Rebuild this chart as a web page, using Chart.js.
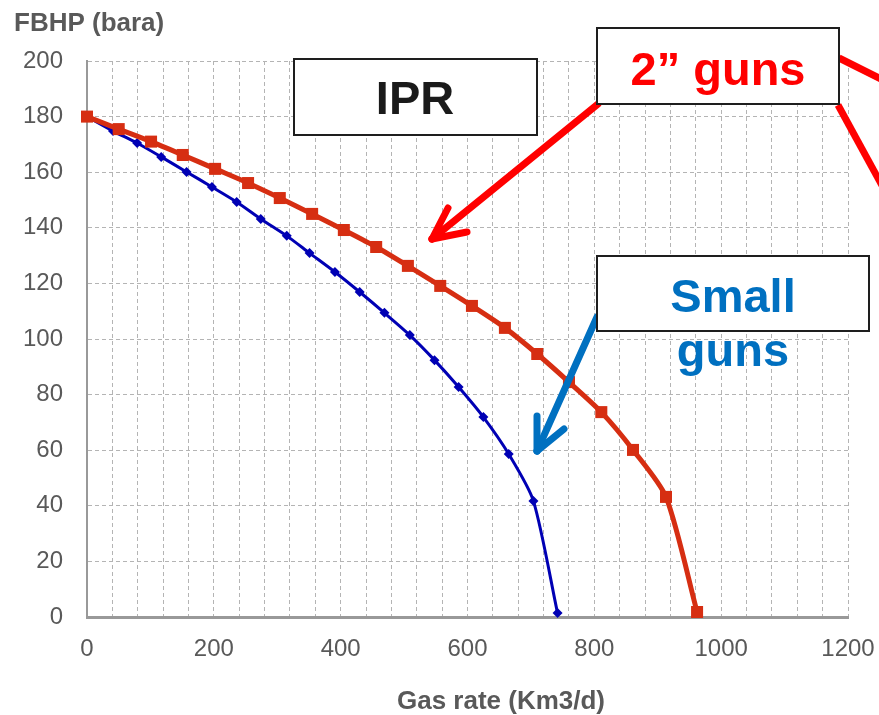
<!DOCTYPE html>
<html>
<head>
<meta charset="utf-8">
<script src="https://cdn.jsdelivr.net/npm/chart.js@4/dist/chart.umd.min.js"></script>
<style>
  html, body { margin: 0; padding: 0; background: #fff; }
  #wrap { width: 879px; height: 715px; }
</style>
</head>
<body>
<div id="wrap"><canvas id="ipr" width="879" height="715"></canvas></div>
<script>
// IPR curves, FBHP (bara) vs gas rate (Km3/d)
const bigGunsRate = [0, 50, 101, 151, 202, 254, 304, 355, 405, 456, 506, 557, 607, 659, 710, 760, 811, 861, 913, 962];
const bigGunsFbhp = [180, 175.5, 171, 166.2, 161.2, 156.1, 150.7, 145, 139.2, 133.1, 126.3, 119.1, 111.9, 104, 94.6, 84.5, 73.7, 60.1, 43.2, 1.8];

const smallGunsRate = [0, 41, 79, 117, 157, 197, 236, 274, 315, 351, 391, 430, 469, 509, 548, 586, 625, 665, 704, 742];
const smallGunsFbhp = [180, 174.8, 170.5, 165.5, 160.1, 154.7, 149.3, 143.2, 137.1, 130.9, 124.1, 116.9, 109.4, 101.4, 92.4, 82.7, 71.9, 58.6, 41.7, 1.4];

const xTickLabels = ['0', '200', '400', '600', '800', '1000', '1200'];
const yTickLabels = ['0', '20', '40', '60', '80', '100', '120', '140', '160', '180', '200'];

const TXT = '#595959';
const FONT = '"Liberation Sans", Arial, sans-serif';

function pts(xs, ys) { return xs.map((x, i) => ({ x: x, y: ys[i] })); }

// boxes, arrows and axis titles drawn on top of the chart
const overlay = {
  id: 'overlay',
  afterDraw(chart) {
    const ctx = chart.ctx;
    ctx.save();

    // axis titles
    ctx.fillStyle = TXT;
    ctx.font = 'bold 26px ' + FONT;
    ctx.textAlign = 'left'; ctx.textBaseline = 'alphabetic';
    ctx.fillText('FBHP (bara)', 14, 31);
    ctx.textAlign = 'center';
    ctx.fillText('Gas rate (Km3/d)', 501, 709);

    function line(x1, y1, x2, y2, color, cap) {
      ctx.beginPath(); ctx.moveTo(x1, y1); ctx.lineTo(x2, y2);
      ctx.strokeStyle = color; ctx.lineWidth = 7; ctx.lineCap = cap || 'round'; ctx.stroke();
    }
    function box(x1, y1, x2, y2) {
      ctx.fillStyle = '#fff'; ctx.fillRect(x1, y1, x2 - x1, y2 - y1);
      ctx.strokeStyle = '#1e1e1e'; ctx.lineWidth = 2; ctx.strokeRect(x1, y1, x2 - x1, y2 - y1);
    }
    function label(t, x, y, color) {
      ctx.fillStyle = color; ctx.font = 'bold 47px ' + FONT;
      ctx.textAlign = 'center'; ctx.textBaseline = 'alphabetic';
      ctx.fillText(t, x, y);
    }

    // red arrow + lines of the 2" guns call-out
    line(598, 104, 432, 239, '#ff0000');
    line(432, 239, 448, 208, '#ff0000');
    line(432, 239, 467, 232, '#ff0000');
    line(839, 58, 885, 81, '#ff0000', 'butt');
    line(838, 105, 885, 191, '#ff0000', 'butt');

    // blue arrow of the small guns call-out
    line(597, 317, 537, 451, '#0070c0');
    line(537, 451, 537, 416, '#0070c0');
    line(537, 451, 564, 429, '#0070c0');

    box(294, 59, 537, 135);
    label('IPR', 415, 114, '#1a1a1a');

    box(597, 28, 839, 104);
    label('2\u201d guns', 718, 85, '#ff0000');

    box(597, 256, 869, 331);
    label('Small', 733, 312, '#0070c0');
    label('guns', 733, 366, '#0070c0');

    ctx.restore();
  }
};

new Chart(document.getElementById('ipr').getContext('2d'), {
  type: 'line',
  data: {
    datasets: [
      {
        label: '2" guns',
        data: pts(bigGunsRate, bigGunsFbhp),
        borderColor: '#d62e12', backgroundColor: '#d62e12',
        borderWidth: 5, tension: 0.25,
        pointStyle: 'rect', pointRadius: 8.5, pointHoverRadius: 8.5, pointBorderWidth: 0,
        clip: 12
      },
      {
        label: 'Small guns',
        data: pts(smallGunsRate, smallGunsFbhp),
        borderColor: '#0000b4', backgroundColor: '#0000b4',
        borderWidth: 3, tension: 0.25,
        pointStyle: 'rectRot', pointRadius: 5, pointHoverRadius: 5, pointBorderWidth: 0,
        clip: 12
      }
    ]
  },
  options: {
    responsive: false,
    animation: false,
    devicePixelRatio: 1,
    layout: { padding: { top: 61, right: 31, left: 0, bottom: 0 } },
    plugins: { legend: { display: false }, tooltip: { enabled: false } },
    scales: {
      x: {
        type: 'linear', min: 0, max: 1200,
        afterFit(s) { s.height = 98; s.paddingRight = 0; s.paddingLeft = 0; },
        ticks: {
          stepSize: 40, autoSkip: false, maxRotation: 0, padding: 18,
          color: TXT, font: { family: FONT, size: 24 },
          callback: v => xTickLabels.includes(String(v)) ? String(v) : ''
        },
        grid: { color: '#b4b4b4', lineWidth: 1, drawTicks: false },
        border: { color: '#999999', width: 3, dash: [4, 3] }
      },
      y: {
        type: 'linear', min: 0, max: 200,
        afterFit(s) { s.width = 87; s.paddingTop = 0; s.paddingBottom = 0; },
        ticks: {
          stepSize: 20, padding: 24,
          color: TXT, font: { family: FONT, size: 24 },
          callback: v => yTickLabels.includes(String(v)) ? String(v) : ''
        },
        grid: { color: '#b4b4b4', lineWidth: 1, drawTicks: false },
        border: { color: '#999999', width: 2, dash: [4, 3] }
      }
    }
  },
  plugins: [overlay]
});
</script>
</body>
</html>
